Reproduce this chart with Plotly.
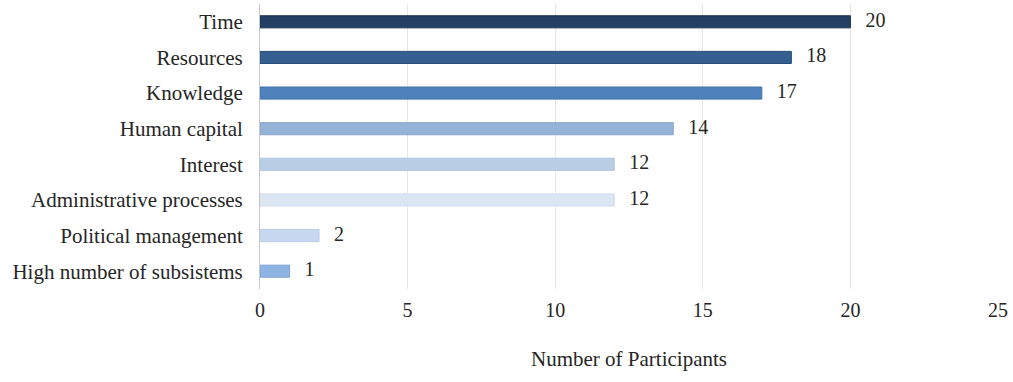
import plotly.graph_objects as go

categories = ["Time", "Resources", "Knowledge", "Human capital", "Interest",
              "Administrative processes", "Political management", "High number of subsistems"]
values = [20, 18, 17, 14, 12, 12, 2, 1]
colors = ["#233F63", "#355F91", "#4F81BD", "#95B3D7", "#B9CDE5", "#DCE6F2", "#C6D9F1", "#8DB4E2"]
line_colors = ["#1B3150", "#274B78", "#4573AA", "#87A6CC", "#AEC4DF", "#D0DCEC", "#B8CDE8", "#7FA6D6"]
x_ticks = [0, 5, 10, 15, 20, 25]

FONT = "Liberation Serif"
TXT = "#262626"

fig = go.Figure()
fig.add_trace(go.Bar(
    y=categories, x=values, orientation="h",
    marker=dict(color=colors, line=dict(color=line_colors, width=1)),
    hoverinfo="x+y",
))
fig.add_trace(go.Scatter(
    y=categories, x=values, mode="text",
    text=["   " + str(v) for v in values], textposition="middle right",
    textfont=dict(family=FONT, size=20, color=TXT),
    cliponaxis=False, hoverinfo="skip",
))

fig.update_layout(
    width=1013, height=382,
    margin=dict(l=260, r=15, t=4, b=93),
    plot_bgcolor="white", paper_bgcolor="white",
    bargap=0.66, showlegend=False,
    font=dict(family=FONT, size=20, color=TXT),
)
fig.update_yaxes(autorange="reversed", showgrid=False, ticks="", ticklabelstandoff=12,
                 showline=True, linecolor="#C8C8C8", linewidth=1,
                 tickfont=dict(family=FONT, size=21, color=TXT))
fig.update_xaxes(range=[0, 25], tickvals=x_ticks, showgrid=True, gridcolor="#E6E6E6",
                 zeroline=False, showline=False, ticks="", ticklabelstandoff=7,
                 ticklabeloverflow="allow",
                 tickfont=dict(family=FONT, size=20, color=TXT),
                 title=dict(text="Number of Participants", font=dict(family=FONT, size=21, color=TXT), standoff=31))

fig.write_html("out.html", config={"displayModeBar": False},
               post_script="document.body.style.margin='0';")
